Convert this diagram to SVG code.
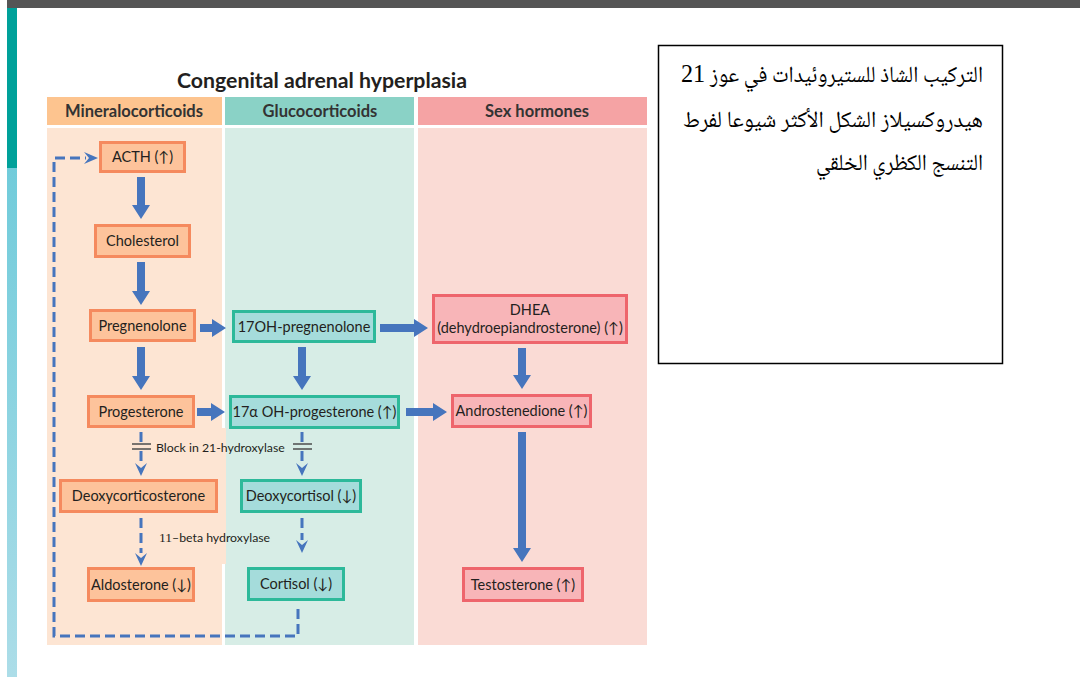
<svg xmlns="http://www.w3.org/2000/svg" width="1080" height="677" viewBox="0 0 1080 677">
<defs>
<linearGradient id="strip" x1="0" y1="0" x2="0" y2="1">
<stop offset="0" stop-color="#5EC6D6"/>
<stop offset="1" stop-color="#ACDDE8"/>
</linearGradient>
<style>
.t{font-family:Lato,"Liberation Sans","DejaVu Sans",sans-serif;fill:#231F20;text-anchor:middle}
.nt{font-size:14.5px}
.hd{font-size:16.5px;font-weight:700;fill:#333}
.sm{font-size:12.3px;text-anchor:start}
.on{fill:#FDC39B;stroke:#F58A5E;stroke-width:3}
.gn{fill:#A5DCDB;stroke:#2DB99A;stroke-width:3}
.pn{fill:#F8B5B8;stroke:#EE656C;stroke-width:3}
.arr{fill:#4675BD}
.dash{fill:none;stroke:#4675BD;stroke-width:3;stroke-dasharray:10 5}
.blk{stroke:#4D4D4D;stroke-width:1.5}
.ar{font-family:"Noto Naskh Arabic","Amiri","Scheherazade New","Noto Sans Arabic","DejaVu Sans",serif;font-size:23px;fill:#000}
</style>
</defs>
<rect width="1080" height="677" fill="#FFFFFF"/>
<rect x="7" y="0" width="1073" height="8" fill="#555555"/>
<rect x="7" y="8" width="10" height="669" fill="url(#strip)"/>
<rect x="7" y="8" width="10" height="160" fill="#00A19A"/>

<g id="columns">
<rect x="47" y="97" width="175" height="28" fill="#FDC48F"/>
<rect x="225" y="97" width="189" height="28" fill="#8AD2C6"/>
<rect x="418" y="97" width="229" height="28" fill="#F5A3A4"/>
<rect x="47" y="128" width="175" height="517" fill="#FDE5D3"/>
<rect x="225" y="128" width="189" height="517" fill="#D7EDE6"/>
<rect x="418" y="128" width="229" height="517" fill="#FADBD5"/>
<rect x="221" y="428" width="5" height="136" fill="#FDE5D3"/>
</g>

<text id="title" class="t" x="322" y="88" font-size="20" font-weight="700" textLength="290" lengthAdjust="spacingAndGlyphs">Congenital adrenal hyperplasia</text>
<g id="headers">
<text class="t hd" x="134" y="116.5">Mineralocorticoids</text>
<text class="t hd" x="320" y="116.5">Glucocorticoids</text>
<text class="t hd" x="537" y="116.5">Sex hormones</text>
</g>

<g id="connectors">
<path class="arr" d="M137,177 H145 V205 H150 L141,219 L132,205 H137 Z"/>
<path class="arr" d="M137,262 H145 V291 H150 L141,305 L132,291 H137 Z"/>
<path class="arr" d="M137,347 H145 V376 H150 L141,390 L132,376 H137 Z"/>
<path class="arr" d="M298,347 H306 V376 H311 L302,390 L293,376 H298 Z"/>
<path class="arr" d="M518,348 H526 V375 H531 L522,389 L513,375 H518 Z"/>
<path class="arr" d="M518,432 H526 V548 H531 L522,562 L513,548 H518 Z"/>
<path class="arr" d="M200,324 V332 H212 V337 L226,328 L212,319 V324 Z"/>
<path class="arr" d="M197,408 V416 H211 V421 L225,412 L211,403 V408 Z"/>
<path class="arr" d="M380,324 V332 H414 V337 L428,328 L414,319 V324 Z"/>
<path class="arr" d="M406,408 V416 H433 V421 L447,412 L433,403 V408 Z"/>

<g id="block-left">
<line class="dash" x1="141" y1="432" x2="141" y2="442" stroke-dasharray="none"/>
<line class="dash" x1="141" y1="451" x2="141" y2="462" stroke-dasharray="none"/>
<path class="arr" d="M135,463 L141,468 L147,463 L141,476 Z"/>
<line class="blk" x1="132" y1="444" x2="151" y2="444"/>
<line class="blk" x1="132" y1="449" x2="151" y2="449"/>
</g>
<g id="block-right">
<line class="dash" x1="302" y1="432" x2="302" y2="442" stroke-dasharray="none"/>
<line class="dash" x1="302" y1="451" x2="302" y2="462" stroke-dasharray="none"/>
<path class="arr" d="M296,463 L302,468 L308,463 L302,476 Z"/>
<line class="blk" x1="293" y1="444" x2="312" y2="444"/>
<line class="blk" x1="293" y1="449" x2="312" y2="449"/>
</g>
<line class="dash" x1="141" y1="518" x2="141" y2="553" stroke-dasharray="11 4"/>
<path class="arr" d="M135,553 L141,558 L147,553 L141,566 Z"/>
<line class="dash" x1="302" y1="518" x2="302" y2="540" stroke-dasharray="11 4"/>
<path class="arr" d="M296,540 L302,545 L308,540 L302,553 Z"/>
<path class="dash" d="M298,609 V636 H54 V158 H86"/>
<path class="arr" d="M84,152 L89,158 L84,164 L98,158 Z"/>
</g>

<g id="labels">
<text class="t sm" x="156" y="452">Block in 21-hydroxylase</text>
<text class="t sm" x="159" y="542"><tspan font-family="Liberation Serif, serif" font-size="13.5">11</tspan>–beta hydroxylase</text>
</g>

<g id="n-acth"><rect class="on" x="100.5" y="142.5" width="84" height="29"/><text class="t nt" x="142.5" y="162">ACTH (↑)</text></g>
<g id="n-cholesterol"><rect class="on" x="95.5" y="225.5" width="94" height="31"/><text class="t nt" x="142.5" y="246">Cholesterol</text></g>
<g id="n-pregnenolone"><rect class="on" x="90.5" y="310.5" width="104" height="30"/><text class="t nt" x="142.5" y="330.5">Pregnenolone</text></g>
<g id="n-progesterone"><rect class="on" x="88.5" y="396.5" width="105" height="30"/><text class="t nt" x="141" y="416.5">Progesterone</text></g>
<g id="n-doc"><rect class="on" x="60.5" y="480.5" width="156" height="31"/><text class="t nt" x="138.5" y="501">Deoxycorticosterone</text></g>
<g id="n-aldosterone"><rect class="on" x="88.5" y="568.5" width="105" height="32"/><text class="t nt" x="141" y="589.5">Aldosterone (↓)</text></g>

<g id="n-17ohpreg"><rect class="gn" x="233.5" y="311.5" width="141" height="30"/><text class="t nt" x="304" y="331.5">17OH-pregnenolone</text></g>
<g id="n-17ohprog"><rect class="gn" x="230.5" y="396.5" width="168" height="31"/><text class="t nt" x="314.5" y="417">17α OH-progesterone (↑)</text></g>
<g id="n-deoxycortisol"><rect class="gn" x="241.5" y="480.5" width="119" height="31"/><text class="t nt" x="301" y="501">Deoxycortisol (↓)</text></g>
<g id="n-cortisol"><rect class="gn" x="248.5" y="568.5" width="95" height="31"/><text class="t nt" x="296" y="589">Cortisol (↓)</text></g>

<g id="n-dhea"><rect class="pn" x="433.5" y="295.5" width="193" height="47"/><text class="t nt" x="530" y="315">DHEA</text><text class="t nt" x="530" y="333">(dehydroepiandrosterone) (↑)</text></g>
<g id="n-andro"><rect class="pn" x="452.5" y="395.5" width="138" height="31"/><text class="t nt" x="521.5" y="416">Androstenedione (↑)</text></g>
<g id="n-testo"><rect class="pn" x="463.5" y="568.5" width="119" height="32"/><text class="t nt" x="523" y="589.5">Testosterone (↑)</text></g>

<g id="note">
<rect x="658.5" y="45.5" width="344" height="318" fill="#FFFFFF" stroke="#000000" stroke-width="1.5"/>
<text class="ar" x="983" y="82" direction="rtl" text-anchor="start" textLength="302" lengthAdjust="spacingAndGlyphs">التركيب الشاذ للستيروئيدات في عوز <tspan font-family="Liberation Serif, serif" font-size="26">21</tspan></text>
<text class="ar" x="983" y="127" direction="rtl" text-anchor="start" textLength="300" lengthAdjust="spacingAndGlyphs">هيدروكسيلاز الشكل الأكثر شيوعا لفرط</text>
<text class="ar" x="983" y="170" direction="rtl" text-anchor="start" textLength="167" lengthAdjust="spacingAndGlyphs">التنسج الكظري الخلقي</text>
</g>
</svg>
